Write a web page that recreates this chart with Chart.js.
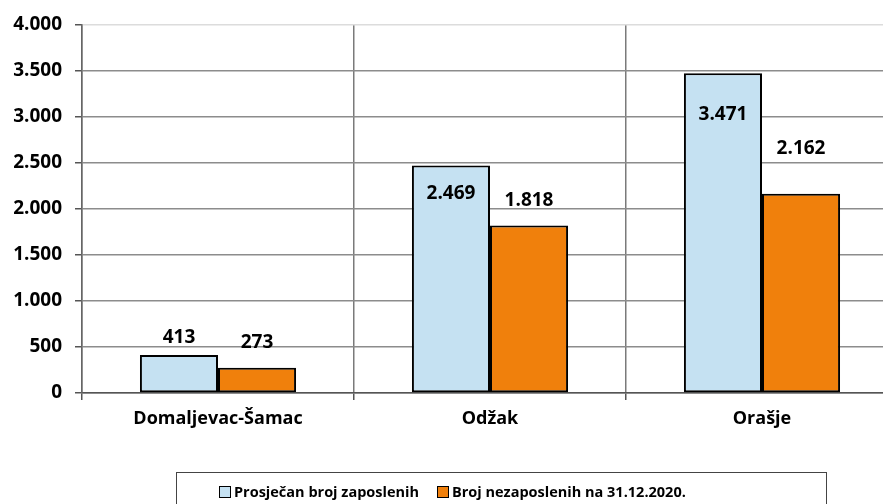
<!DOCTYPE html>
<html>
<head>
<meta charset="utf-8">
<script src="https://cdn.jsdelivr.net/npm/chart.js@4.4.0/dist/chart.umd.min.js"></script>
<style>
  html, body { margin: 0; padding: 0; background: #fff; }
  #wrap { position: relative; width: 883px; height: 504px; overflow: hidden; }
  #myChart { position: absolute; left: 0; top: 0; }
  #legend {
    position: absolute; left: 176px; top: 472px; width: 651px; height: 40px;
    border: 1px solid #444; box-sizing: border-box;
    font-family: "Open Sans", sans-serif; font-weight: bold; font-size: 14.5px; color: #000;
  }
  .item { position: absolute; top: 9px; white-space: nowrap; }
  .box { display: inline-block; width: 10px; height: 10px; border: 1.5px solid #000; vertical-align: -1px; margin-right: 3px; }
</style>
</head>
<body>
<div id="wrap">
  <canvas id="myChart" width="900" height="504"></canvas>
  <div id="legend">
    <div class="item" style="left:42px"><span class="box" style="background:#c5e1f2"></span>Prosječan broj zaposlenih</div>
    <div class="item" style="left:260px"><span class="box" style="background:#f0800c"></span>Broj nezaposlenih na 31.12.2020.</div>
  </div>
</div>
<script>
// chart data
const categories = ['Domaljevac-Šamac', 'Odžak', 'Orašje'];
const employed = [413, 2469, 3471];
const unemployed = [273, 1818, 2162];
const seriesNames = ['Prosječan broj zaposlenih', 'Broj nezaposlenih na 31.12.2020.'];
const yTicks = [0, 500, 1000, 1500, 2000, 2500, 3000, 3500, 4000];

// where the value labels sit, pixels from the bar top (negative = above)
const labelShift = [[-17, 28, 41], [-25, -25, -45]];

function fmt(v) {
  return v.toString().replace(/\B(?=(\d{3})+(?!\d))/g, '.');
}

const valueLabels = {
  id: 'valueLabels',
  afterDatasetsDraw(chart) {
    const ctx = chart.ctx;
    ctx.save();
    ctx.font = 'bold 19px "Open Sans"';
    ctx.fillStyle = '#000';
    ctx.textAlign = 'center';
    ctx.textBaseline = 'middle';
    chart.data.datasets.forEach((ds, i) => {
      chart.getDatasetMeta(i).data.forEach((bar, j) => {
        ctx.fillText(fmt(ds.data[j]), bar.x, bar.y + labelShift[i][j]);
      });
    });
    ctx.restore();
  }
};

var ctx = document.getElementById('myChart').getContext('2d');
var myChart = new Chart(ctx, {
  type: 'bar',
  data: {
    labels: categories,
    datasets: [{
      label: seriesNames[0],
      data: employed,
      backgroundColor: '#c5e1f2',
      borderColor: '#000',
      borderWidth: 2,
      borderSkipped: false
    }, {
      label: seriesNames[1],
      data: unemployed,
      backgroundColor: '#f0800c',
      borderColor: '#000',
      borderWidth: 2,
      borderSkipped: false
    }]
  },
  plugins: [valueLabels],
  options: {
    responsive: false,
    animation: false,
    devicePixelRatio: 1,
    layout: { padding: { top: 23, right: 2, left: 0, bottom: 0 } },
    plugins: {
      legend: { display: false },
      tooltip: { enabled: false }
    },
    datasets: {
      bar: { categoryPercentage: 0.574, barPercentage: 1 }
    },
    scales: {
      x: {
        afterFit: s => { s.height = 111; },
        grid: { offset: true, color: '#7a7a7a', lineWidth: 1.5, tickLength: 7, tickColor: '#555' },
        border: { color: '#555', width: 1.5 },
        ticks: { color: '#000', font: { family: 'Open Sans', weight: 'bold', size: 18 }, padding: 8 }
      },
      y: {
        min: 0,
        max: 4000,
        afterFit: s => { s.width = 82; },
        afterBuildTicks: s => { s.ticks = yTicks.map(v => ({ value: v })); },
        grid: {
          color: c => c.tick && c.tick.value === 4000 ? '#dcdcdc' : '#8c8c8c',
          lineWidth: 1.5, tickLength: 7, tickColor: '#555'
        },
        border: { color: '#666', width: 1.5 },
        ticks: {
          color: '#000', font: { family: 'Open Sans', weight: 'bold', size: 19 }, padding: 13,
          callback: v => fmt(v)
        }
      }
    }
  }
});
</script>
</body>
</html>
